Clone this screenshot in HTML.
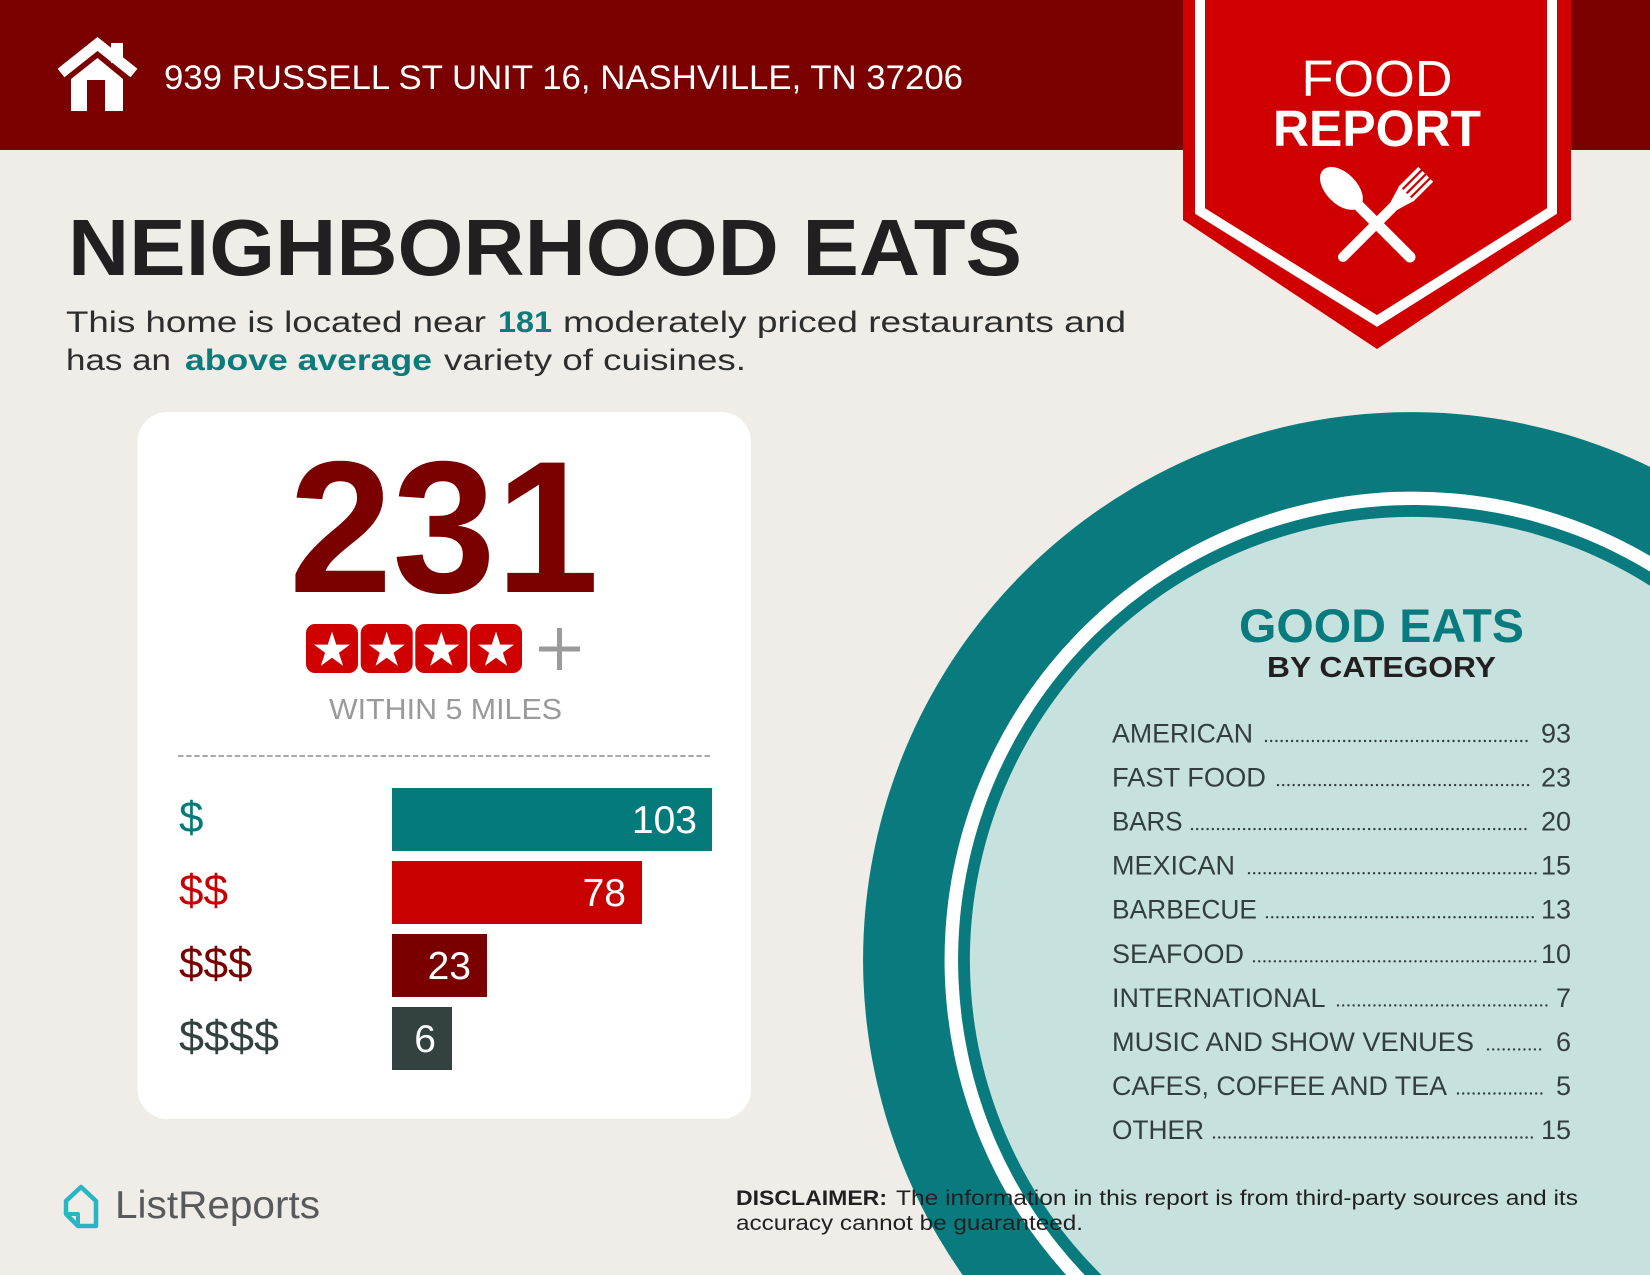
<!DOCTYPE html>
<html>
<head>
<meta charset="utf-8">
<style>
  html,body{margin:0;padding:0;background:#f0ece8;width:1650px;height:1275px;overflow:hidden;}
  svg{display:block;}
  text{font-family:"Liberation Sans", "DejaVu Sans", sans-serif;}
</style>
</head>
<body>
<svg width="1650" height="1275" viewBox="0 0 1650 1275" xmlns="http://www.w3.org/2000/svg">
  <defs>
    <path id="star" d="M0,-19 L4.27,-5.87 L18.07,-5.87 L6.90,2.24 L11.17,15.37 L0,7.26 L-11.17,15.37 L-6.90,2.24 L-18.07,-5.87 L-4.27,-5.87 Z" fill="#ffffff"/>
  </defs>

  <!-- background -->
  <rect x="0" y="0" width="1650" height="1275" fill="#f0ece8"/>

  <!-- header band -->
  <rect x="0" y="0" width="1650" height="150" fill="#7b0000"/>

  <!-- house icon -->
  <g fill="#ffffff">
    <polyline points="61,73 97.5,44 134,73" fill="none" stroke="#ffffff" stroke-width="11" stroke-linejoin="miter"/>
    <rect x="111" y="43" width="12" height="20"/>
    <polygon points="71,111 71,79 97.5,58 123,79 123,111"/>
  </g>
  <rect x="87" y="80" width="18" height="31" fill="#7b0000"/>

  <!-- address -->
  <text x="164" y="89" font-size="34" fill="#ffffff" textLength="799" lengthAdjust="spacingAndGlyphs">939 RUSSELL ST UNIT 16, NASHVILLE, TN 37206</text>

  <!-- ribbon -->
  <polygon points="1183,0 1571,0 1571,220 1377,349 1183,220" fill="#d10000"/>
  <polyline points="1200,0 1200,211 1377,321 1552,211 1552,0" fill="none" stroke="#ffffff" stroke-width="10" stroke-linejoin="miter"/>
  <text x="1377" y="96" font-size="51" fill="#ffffff" text-anchor="middle" textLength="151" lengthAdjust="spacingAndGlyphs">FOOD</text>
  <text x="1377" y="146" font-size="51" font-weight="bold" fill="#ffffff" text-anchor="middle" textLength="208" lengthAdjust="spacingAndGlyphs">REPORT</text>
  <!-- fork -->
  <g transform="translate(1343,257) rotate(45)" fill="#ffffff">
    <line x1="0" y1="0" x2="0" y2="-72" stroke="#ffffff" stroke-width="10" stroke-linecap="round"/>
    <polygon points="-4.5,-70 4.5,-70 10.5,-90 -10.5,-90"/>
    <rect x="-10.5" y="-117" width="3.6" height="28"/>
    <rect x="-4.7" y="-117" width="3.6" height="28"/>
    <rect x="1.1" y="-117" width="3.6" height="28"/>
    <rect x="6.9" y="-117" width="3.6" height="28"/>
  </g>
  <!-- spoon -->
  <g transform="translate(1410,257) rotate(-45)" fill="#ffffff">
    <line x1="0" y1="0" x2="0" y2="-76" stroke="#ffffff" stroke-width="11" stroke-linecap="round"/>
    <ellipse cx="0" cy="-97" rx="15.5" ry="26"/>
  </g>

  <!-- title -->
  <text x="68" y="275" font-size="80" font-weight="bold" fill="#231f20" textLength="954" lengthAdjust="spacingAndGlyphs">NEIGHBORHOOD EATS</text>

  <!-- paragraph -->
  <g font-size="30" fill="#2d2d2d">
    <text x="66" y="332" textLength="420" lengthAdjust="spacingAndGlyphs">This home is located near</text>
    <text x="498" y="332" font-weight="bold" fill="#0b7b7b" textLength="54" lengthAdjust="spacingAndGlyphs">181</text>
    <text x="563" y="332" textLength="563" lengthAdjust="spacingAndGlyphs">moderately priced restaurants and</text>
    <text x="66" y="370" textLength="105" lengthAdjust="spacingAndGlyphs">has an</text>
    <text x="185" y="370" font-weight="bold" fill="#0b7b7b" textLength="247" lengthAdjust="spacingAndGlyphs">above average</text>
    <text x="444" y="370" textLength="302" lengthAdjust="spacingAndGlyphs">variety of cuisines.</text>
  </g>

  <!-- card -->
  <rect x="137.5" y="412" width="613.5" height="707" rx="30" ry="30" fill="#ffffff"/>
  <text x="444" y="592" font-size="188" font-weight="bold" fill="#7b0000" text-anchor="middle" textLength="310" lengthAdjust="spacingAndGlyphs">231</text>

  <!-- stars -->
  <g fill="#d10000">
    <rect x="306" y="624" width="52" height="49" rx="9"/>
    <rect x="360.7" y="624" width="52" height="49" rx="9"/>
    <rect x="415.3" y="624" width="52" height="49" rx="9"/>
    <rect x="470" y="624" width="52" height="49" rx="9"/>
  </g>
  <use href="#star" x="332" y="650.5"/>
  <use href="#star" x="386.7" y="650.5"/>
  <use href="#star" x="441.3" y="650.5"/>
  <use href="#star" x="496" y="650.5"/>
  <g stroke="#9b9b9b" stroke-width="5">
    <line x1="539" y1="649" x2="580" y2="649"/>
    <line x1="559.5" y1="628" x2="559.5" y2="670"/>
  </g>
  <text x="445.5" y="719" font-size="28.5" fill="#9a9a9a" text-anchor="middle" textLength="233" lengthAdjust="spacingAndGlyphs">WITHIN 5 MILES</text>

  <line x1="178" y1="756" x2="712" y2="756" stroke="#a9a9a9" stroke-width="2" stroke-dasharray="5.5 2.6"/>

  <!-- bars -->
  <rect x="392" y="788" width="320" height="63" fill="#047a7a"/>
  <rect x="392" y="861" width="250" height="63" fill="#c80000"/>
  <rect x="392" y="934" width="95" height="63" fill="#7a0000"/>
  <rect x="392" y="1007" width="60" height="63" fill="#344141"/>
  <g font-size="39" fill="#ffffff" text-anchor="end">
    <text x="697" y="833">103</text>
    <text x="626" y="906">78</text>
    <text x="471" y="979">23</text>
    <text x="436" y="1052">6</text>
  </g>
  <g font-size="44">
    <text x="179" y="832" fill="#047a7a">$</text>
    <text x="179" y="905" fill="#c80000">$$</text>
    <text x="179" y="978" fill="#7a0000">$$$</text>
    <text x="179" y="1051" fill="#344141" textLength="100" lengthAdjust="spacingAndGlyphs">$$$$</text>
  </g>

  <!-- circle (pre-clipped to frame) -->
  <path d="M1650,466.9 A548,548 0 0 0 962.6,1275 L1650,1275 Z" fill="#097b7e"/>
  <path d="M1650,555.9 A468.5,468.5 0 0 0 1066.2,1275 L1650,1275 Z" fill="#ffffff"/>
  <path d="M1650,571.6 A455,455 0 0 0 1084.7,1275 L1650,1275 Z" fill="#097b7e"/>
  <path d="M1650,585.7 A443,443 0 0 0 1101.5,1275 L1650,1275 Z" fill="#c7e1df"/>

  <text x="1381.5" y="642" font-size="47" font-weight="bold" fill="#097b7e" text-anchor="middle" textLength="285" lengthAdjust="spacingAndGlyphs">GOOD EATS</text>
  <text x="1381.5" y="677" font-size="28.5" font-weight="bold" fill="#231f20" text-anchor="middle" textLength="229" lengthAdjust="spacingAndGlyphs">BY CATEGORY</text>

  <!-- category list -->
  <g font-size="27" fill="#333f3f">
    <text x="1112" y="742.5" textLength="141" lengthAdjust="spacingAndGlyphs">AMERICAN</text>
    <text x="1112" y="786.6" textLength="154" lengthAdjust="spacingAndGlyphs">FAST FOOD</text>
    <text x="1112" y="830.6" textLength="70.5" lengthAdjust="spacingAndGlyphs">BARS</text>
    <text x="1112" y="874.7" textLength="123" lengthAdjust="spacingAndGlyphs">MEXICAN</text>
    <text x="1112" y="918.7" textLength="145" lengthAdjust="spacingAndGlyphs">BARBECUE</text>
    <text x="1112" y="962.8" textLength="132" lengthAdjust="spacingAndGlyphs">SEAFOOD</text>
    <text x="1112" y="1006.9" textLength="213.5" lengthAdjust="spacingAndGlyphs">INTERNATIONAL</text>
    <text x="1112" y="1050.9" textLength="362" lengthAdjust="spacingAndGlyphs">MUSIC AND SHOW VENUES</text>
    <text x="1112" y="1095" textLength="335" lengthAdjust="spacingAndGlyphs">CAFES, COFFEE AND TEA</text>
    <text x="1112" y="1139" textLength="92" lengthAdjust="spacingAndGlyphs">OTHER</text>
  </g>
  <g font-size="27" fill="#333f3f" text-anchor="end">
    <text x="1571" y="742.5">93</text>
    <text x="1571" y="786.6">23</text>
    <text x="1571" y="830.6">20</text>
    <text x="1571" y="874.7">15</text>
    <text x="1571" y="918.7">13</text>
    <text x="1571" y="962.8">10</text>
    <text x="1571" y="1006.9">7</text>
    <text x="1571" y="1050.9">6</text>
    <text x="1571" y="1095">5</text>
    <text x="1571" y="1139">15</text>
  </g>
  <g stroke="#333f3f" stroke-width="2.4" stroke-linecap="round" stroke-dasharray="0.01 5.2">
    <line x1="1266" y1="741" x2="1531" y2="741"/>
    <line x1="1278" y1="785.1" x2="1531" y2="785.1"/>
    <line x1="1192" y1="829.1" x2="1526" y2="829.1"/>
    <line x1="1249" y1="873.2" x2="1536" y2="873.2"/>
    <line x1="1267" y1="917.2" x2="1537" y2="917.2"/>
    <line x1="1254" y1="961.3" x2="1536" y2="961.3"/>
    <line x1="1338" y1="1005.4" x2="1549" y2="1005.4"/>
    <line x1="1488" y1="1049.4" x2="1544" y2="1049.4"/>
    <line x1="1458" y1="1093.5" x2="1544" y2="1093.5"/>
    <line x1="1214" y1="1137.5" x2="1536" y2="1137.5"/>
  </g>

  <!-- disclaimer -->
  <g font-size="21" fill="#231f20">
    <text x="736" y="1205" font-weight="bold" textLength="151" lengthAdjust="spacingAndGlyphs">DISCLAIMER:</text>
    <text x="896" y="1205" textLength="682" lengthAdjust="spacingAndGlyphs">The information in this report is from third-party sources and its</text>
    <text x="736" y="1230" textLength="347" lengthAdjust="spacingAndGlyphs">accuracy cannot be guaranteed.</text>
  </g>

  <!-- ListReports logo -->
  <path d="M81,1187 L96,1201 L96,1226 L78,1226 L66,1214 L66,1201 Z" fill="none" stroke="#29b5c4" stroke-width="4.5" stroke-linejoin="round"/>
  <path d="M66,1214 L78,1214 L78,1226" fill="none" stroke="#29b5c4" stroke-width="4" stroke-linejoin="round"/>
  <text x="115" y="1218" font-size="38.5" fill="#58595b" textLength="205" lengthAdjust="spacingAndGlyphs">ListReports</text>
</svg>
</body>
</html>
